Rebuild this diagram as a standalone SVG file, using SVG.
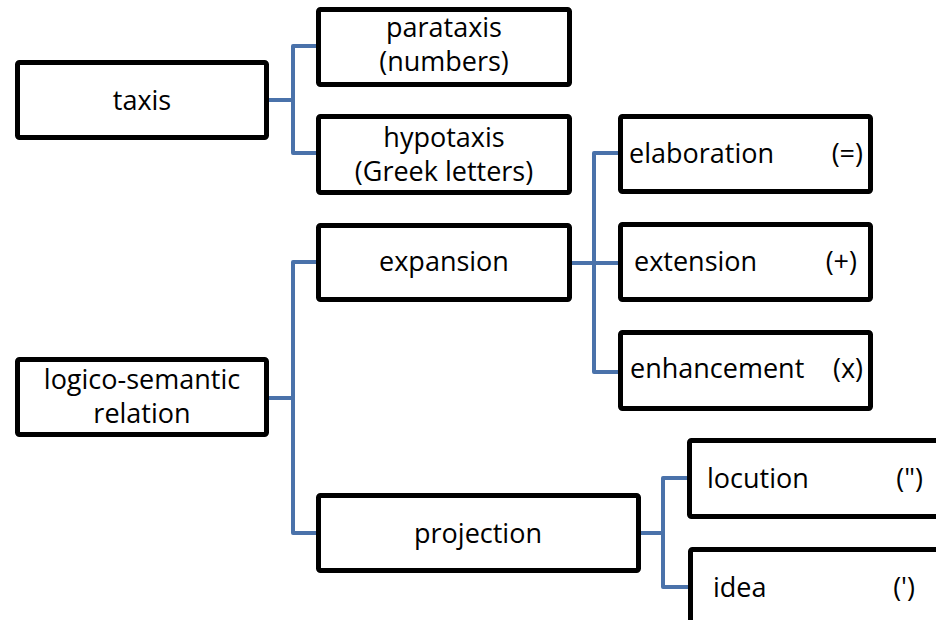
<svg xmlns="http://www.w3.org/2000/svg" width="936" height="620" viewBox="0 0 936 620">
<style>
.box{fill:#fff;stroke:#000;stroke-width:5}
.con{fill:none;stroke:#4a72aa;stroke-width:4;stroke-linejoin:round}
text{font-family:"Open Sans","Liberation Sans",sans-serif;font-size:27px;fill:#000}
.c{text-anchor:middle}
.e{text-anchor:end}
</style>
<rect width="936" height="620" fill="#fff"/>
<g id="connectors">
<path class="con" d="M269,100 H293 M318,46 H293 V153 H318"/>
<path class="con" d="M269,398 H293 M318,262 H293 V533 H318"/>
<path class="con" d="M572,263 H618 M618,153 H594 V372 H618"/>
<path class="con" d="M641,533 H663 M687,478 H663 V587 H688"/>
</g>
<g id="taxis"><rect class="box" x="17.5" y="62.5" width="249" height="75" rx="2"/><text class="c" x="142" y="110">taxis</text></g>
<g id="parataxis"><rect class="box" x="318.5" y="9.5" width="251" height="75" rx="2"/><text class="c" x="444" y="37">parataxis</text><text class="c" x="444" y="71">(numbers)</text></g>
<g id="hypotaxis"><rect class="box" x="318.5" y="116.5" width="251" height="76" rx="2"/><text class="c" x="444" y="147">hypotaxis</text><text class="c" x="444" y="181">(Greek letters)</text></g>
<g id="logico-semantic"><rect class="box" x="17.5" y="359.5" width="249" height="75" rx="2"/><text class="c" x="142" y="389">logico-semantic</text><text class="c" x="142" y="423">relation</text></g>
<g id="expansion"><rect class="box" x="318.5" y="225.5" width="251" height="74" rx="2"/><text class="c" x="444" y="271">expansion</text></g>
<g id="projection"><rect class="box" x="318.5" y="495.5" width="320" height="75" rx="2"/><text class="c" x="478" y="543">projection</text></g>
<g id="elaboration"><rect class="box" x="620.5" y="116.5" width="250" height="75" rx="2"/><text x="629" y="163">elaboration</text><text class="e" x="863" y="163">(=)</text></g>
<g id="extension"><rect class="box" x="620.5" y="224.5" width="250" height="75" rx="2"/><text x="634" y="271">extension</text><text class="e" x="857" y="271">(+)</text></g>
<g id="enhancement"><rect class="box" x="620.5" y="332.5" width="250" height="76" rx="2"/><text x="630" y="378">enhancement</text><text class="e" x="863" y="378">(x)</text></g>
<g id="locution"><rect class="box" x="689.5" y="440.5" width="260" height="76" rx="2"/><text x="707" y="488">locution</text><text class="e" x="923" y="488">(")</text></g>
<g id="idea"><rect class="box" x="690.5" y="549.5" width="260" height="76" rx="2"/><text x="713" y="597">idea</text><text class="e" x="915" y="597">(')</text></g>
</svg>
